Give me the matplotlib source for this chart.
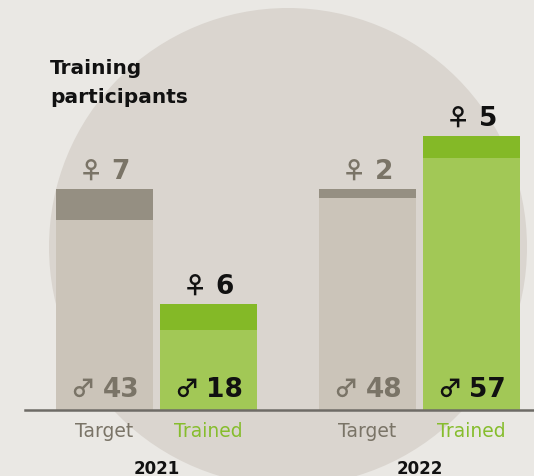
import matplotlib.pyplot as plt
from matplotlib.patches import Ellipse
from matplotlib.offsetbox import TextArea, HPacker, AnnotationBbox

years = ["2021", "2022"]
kinds = ["Target", "Trained"]
male = [[43, 18], [48, 57]]
female = [[7, 6], [2, 5]]

BG = "#eae8e4"
CIRCLE = "#dad5cf"
male_col = {"Target": "#cbc4b9", "Trained": "#a2c856"}
female_col = {"Target": "#958f82", "Trained": "#84b927"}
num_col = {"Target": "#7a7467", "Trained": "#111111"}
kind_col = {"Target": "#7a7467", "Trained": "#86bd2d"}

W, H = 534, 477
fig = plt.figure(figsize=(W / 100, H / 100), dpi=100)
fig.patch.set_facecolor(BG)
ax = fig.add_axes([0, 0, 1, 1])
ax.set_facecolor(BG)

# layout in pixels -> data units
unit = 104.0          # px per slot
x0 = 104.5            # px of first bar centre
scale = 4.42          # px per participant
base = 66.0           # px of baseline from bottom
ax.set_xlim(-x0 / unit, (W - x0) / unit)
ax.set_ylim(-base / scale, (H - base) / scale)
width = 97 / unit
group_gap = 263 / unit

ax.add_patch(Ellipse((288 / W, 1 - 248 / H), 2 * 239 / W, 2 * 239 / H,
                     transform=ax.transAxes, color=CIRCLE, zorder=0, lw=0))

fam = ["DejaVu Sans"]
symfam = ["Noto Sans CJK JP", "DejaVu Sans"]


def count_label(x, y, sym, n, color):
    s = TextArea(sym, textprops=dict(family=symfam, fontsize=17.5, fontweight="bold", color=color))
    t = TextArea(str(n), textprops=dict(family=fam, fontsize=19, fontweight="bold", color=color))
    box = HPacker(children=[s, t], sep=6, pad=0, align="baseline")
    ab = AnnotationBbox(box, (x, y), box_alignment=(0.5, 0), frameon=False,
                        pad=0, zorder=3)
    ax.add_artist(ab)


for g, year in enumerate(years):
    gx = g * group_gap
    for k, kind in enumerate(kinds):
        x = gx + k
        m = male[g][k]
        f = female[g][k]
        ax.bar(x, m, width, color=male_col[kind], zorder=2)
        ax.bar(x, f, width, bottom=m, color=female_col[kind], zorder=2)
        count_label(x, m + f + 5 / scale, "\u2640", f, num_col[kind])
        count_label(x, 8 / scale, "\u2642", m, num_col[kind])
        ax.text(x, -26 / scale, kind, ha="center", va="baseline",
                fontsize=13.5, color=kind_col[kind], family=fam, zorder=3)
    ax.text(gx + 0.5, -63 / scale, year, ha="center", va="baseline",
            fontsize=12, fontweight="bold", color="#111111", family=fam, zorder=3)

ax.axhline(0, xmin=25 / W, xmax=1, color="#6e6b66", lw=1.8, zorder=4)

fig.text(50 / W, 1 - 103 / H, "Training\nparticipants", ha="left", va="baseline",
         fontsize=14.5, fontweight="bold", color="#111111", family=fam,
         linespacing=1.7)

ax.axis("off")
fig.savefig("out.png", dpi=100, facecolor=BG)
